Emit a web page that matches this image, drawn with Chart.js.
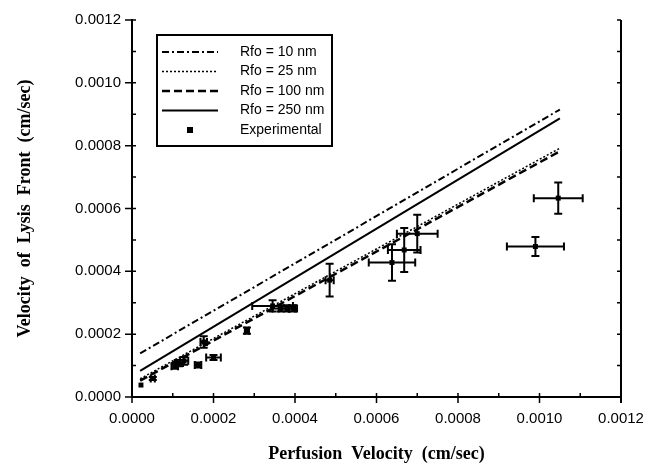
<!DOCTYPE html>
<html>
<head>
<meta charset="utf-8">
<script src="https://cdn.jsdelivr.net/npm/chart.js@4/dist/chart.umd.min.js"></script>
<style>
  html, body { margin: 0; padding: 0; background: #fff; }
  #wrap { width: 657px; height: 466px; }
</style>
</head>
<body>
<div id="wrap"><canvas id="chart"></canvas></div>
<script>
// model lines, end points (cm/sec)
const rfo10X = [0.00002, 0.00105];
const rfo10Y = [0.000139, 0.000915];
const rfo25X = [0.00002, 0.00105];
const rfo25Y = [0.000058, 0.000792];
const rfo100X = [0.00002, 0.00105];
const rfo100Y = [0.000052, 0.000782];
const rfo250X = [0.00002, 0.00105];
const rfo250Y = [0.000083, 0.000887];

// experimental points with error half-widths
const expX = [0.000022, 0.000051, 0.000105, 0.000115, 0.000128, 0.000162, 0.000176, 0.000200, 0.000282,
  0.000345, 0.000365, 0.000380, 0.000395, 0.000485, 0.000638, 0.000668, 0.000700, 0.000990, 0.001046];
const expY = [0.000038, 0.000059, 0.000098, 0.000108, 0.000115, 0.000102, 0.000175, 0.000126, 0.000211,
  0.000290, 0.000282, 0.000282, 0.000282, 0.000372, 0.000428, 0.000468, 0.000520, 0.000479, 0.000633];
const expXErr = [0, 0.000005, 0.000008, 0.00001, 0.00001, 0.000008, 0.000008, 0.000018, 0.000005,
  0.00005, 0.00002, 0.00002, 0.00001, 0.00001, 0.000057, 0.00004, 0.00005, 0.00007, 0.00006];
const expYErr = [0, 0.000005, 0.000008, 0.00001, 0.000012, 0.000008, 0.000018, 0.000008, 0.00001,
  0.000018, 0.00001, 0.00001, 0.00001, 0.000052, 0.000058, 0.00007, 0.00006, 0.00003, 0.00005];

const axisMax = 0.0012;
const tickStep = 0.0002;

const toPoints = (xs, ys) => xs.map((x, i) => ({ x, y: ys[i] }));

Chart.defaults.font.family = 'Liberation Sans, Arial, sans-serif';
Chart.defaults.color = '#000';

// error bars drawn through the chart scales
const errorBars = {
  id: 'errorBars',
  afterDatasetsDraw(chart) {
    const { ctx, scales: { x, y } } = chart;
    ctx.save();
    ctx.strokeStyle = '#000';
    ctx.lineWidth = 2;
    const cap = 4;
    expX.forEach((vx, i) => {
      const px = x.getPixelForValue(vx);
      const py = y.getPixelForValue(expY[i]);
      if (expXErr[i] > 0) {
        const l = x.getPixelForValue(vx - expXErr[i]);
        const r = x.getPixelForValue(vx + expXErr[i]);
        ctx.beginPath();
        ctx.moveTo(l, py); ctx.lineTo(r, py);
        ctx.moveTo(l, py - cap); ctx.lineTo(l, py + cap);
        ctx.moveTo(r, py - cap); ctx.lineTo(r, py + cap);
        ctx.stroke();
      }
      if (expYErr[i] > 0) {
        const t = y.getPixelForValue(expY[i] + expYErr[i]);
        const b = y.getPixelForValue(expY[i] - expYErr[i]);
        ctx.beginPath();
        ctx.moveTo(px, t); ctx.lineTo(px, b);
        ctx.moveTo(px - cap, t); ctx.lineTo(px + cap, t);
        ctx.moveTo(px - cap, b); ctx.lineTo(px + cap, b);
        ctx.stroke();
      }
    });
    ctx.restore();
  }
};

// major ticks cross the axes, minor ticks point inward; right frame line
const frameTicks = {
  id: 'frameTicks',
  afterDraw(chart) {
    const { ctx, chartArea: a, scales: { x, y } } = chart;
    ctx.save();
    ctx.strokeStyle = '#000';
    ctx.lineWidth = 2;
    ctx.beginPath();
    ctx.moveTo(a.right, a.top);
    ctx.lineTo(a.right, a.bottom + 6);
    ctx.stroke();
    ctx.lineWidth = 1.5;
    ctx.beginPath();
    for (let k = 0; k <= 12; k++) {
      const v = k * 0.0001;
      const major = k % 2 === 0;
      const px = x.getPixelForValue(v);
      const py = y.getPixelForValue(v);
      ctx.moveTo(px, a.bottom - 4);
      ctx.lineTo(px, a.bottom + (major ? 6 : 0));
      ctx.moveTo(a.left - (major ? 7 : 0), py);
      ctx.lineTo(a.left + 4, py);
      ctx.moveTo(a.right - 4, py);
      ctx.lineTo(a.right, py);
    }
    ctx.stroke();
    ctx.restore();
  }
};

// boxed legend inside the plot, upper left
const boxLegend = {
  id: 'boxLegend',
  afterDraw(chart) {
    const { ctx } = chart;
    const left = 157, top = 35, w = 175, h = 111;
    ctx.save();
    ctx.strokeStyle = '#000';
    ctx.lineWidth = 2;
    ctx.strokeRect(left, top, w, h);
    ctx.font = '14px Liberation Sans, Arial, sans-serif';
    ctx.fillStyle = '#000';
    ctx.textBaseline = 'middle';
    chart.data.datasets.forEach((ds, i) => {
      const ry = 52 + i * 19.5;
      if (ds.showLine) {
        ctx.beginPath();
        ctx.lineWidth = ds.borderWidth;
        ctx.setLineDash(ds.borderDash || []);
        ctx.moveTo(162, ry);
        ctx.lineTo(218, ry);
        ctx.stroke();
        ctx.setLineDash([]);
      } else {
        ctx.fillRect(187, ry - 3, 6, 6);
      }
      ctx.fillText(ds.label, 240, ry);
    });
    ctx.restore();
  }
};

const lineSet = (label, xs, ys, width, dash) => ({
  label,
  data: toPoints(xs, ys),
  showLine: true,
  borderColor: '#000',
  borderWidth: width,
  borderDash: dash,
  pointRadius: 0,
  fill: false
});

new Chart(document.getElementById('chart'), {
  type: 'scatter',
  data: {
    datasets: [
      lineSet('Rfo = 10 nm', rfo10X, rfo10Y, 2, [7, 3, 2, 3]),
      lineSet('Rfo = 25 nm', rfo25X, rfo25Y, 1.5, [2, 2]),
      lineSet('Rfo = 100 nm', rfo100X, rfo100Y, 2.5, [8, 4]),
      lineSet('Rfo = 250 nm', rfo250X, rfo250Y, 2, []),
      {
        label: 'Experimental',
        data: toPoints(expX, expY),
        pointStyle: 'rect',
        pointRadius: 3.5,
        backgroundColor: '#000',
        borderColor: '#000',
        borderWidth: 0
      }
    ]
  },
  options: {
    responsive: true,
    maintainAspectRatio: false,
    animation: false,
    layout: { padding: { top: 16, right: 36, left: 0, bottom: 0 } },
    plugins: { legend: { display: false }, tooltip: { enabled: false } },
    scales: {
      x: {
        type: 'linear',
        min: 0,
        max: axisMax,
        afterFit: s => { s.height = 69; },
        border: { display: true, color: '#000', width: 2 },
        grid: { display: true, drawOnChartArea: false, drawTicks: false },
        ticks: {
          stepSize: tickStep,
          padding: 13,
          font: { size: 15 },
          callback: v => v.toFixed(4)
        },
        title: {
          display: true,
          text: 'Perfusion  Velocity  (cm/sec)',
          font: { family: 'Liberation Serif, Times New Roman, serif', size: 18, weight: 'bold' },
          padding: { top: 0, bottom: 1 }
        }
      },
      y: {
        type: 'linear',
        min: 0,
        max: axisMax,
        afterFit: s => { s.width = 132; },
        border: { display: true, color: '#000', width: 2 },
        grid: { display: true, drawOnChartArea: false, drawTicks: false },
        ticks: {
          stepSize: tickStep,
          padding: 11,
          font: { size: 15 },
          callback: v => v.toFixed(4)
        },
        title: {
          display: true,
          text: 'Velocity  of  Lysis  Front  (cm/sec)',
          font: { family: 'Liberation Serif, Times New Roman, serif', size: 18, weight: 'bold' },
          padding: { top: 15, bottom: 0 }
        }
      }
    }
  },
  plugins: [errorBars, frameTicks, boxLegend]
});
</script>
</body>
</html>
